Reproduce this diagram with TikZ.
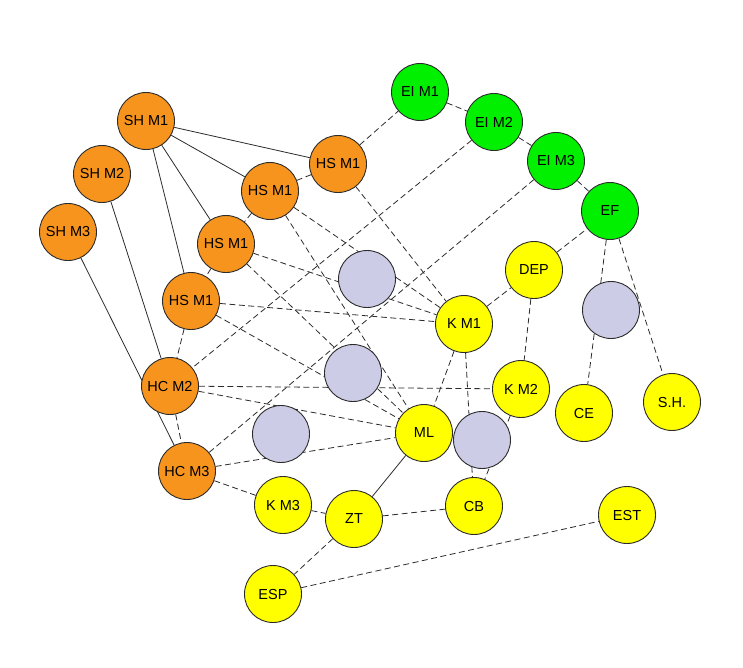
\documentclass[tikz,border=0pt]{standalone}
\usepackage{fontspec}
\setmainfont{Liberation Sans}
\usepackage{tikz}
\usetikzlibrary{backgrounds}
\definecolor{NetOrange}{HTML}{F7941E}
\definecolor{NetGreen}{HTML}{00F000}
\definecolor{NetYellow}{HTML}{FFFF00}
\definecolor{NetBlank}{HTML}{CCCCE6}
\definecolor{NetEdge}{HTML}{2B2B2B}
\tikzset{
  member/.style={circle,draw=NetEdge,line width=0.9pt,minimum size=57pt,inner sep=0pt,font=\fontsize{14.5}{17}\selectfont},
  senior/.style={member,fill=NetOrange},
  board/.style={member,fill=NetGreen},
  unit/.style={member,fill=NetYellow},
  blank/.style={member,fill=NetBlank},
  tie/.style={draw=NetEdge,line width=0.8pt},
  link/.style={tie,dash pattern=on 6pt off 3.5pt}
}
\begin{document}
\begin{tikzpicture}[x=1pt,y=-1pt]
  \useasboundingbox (0,0) rectangle (743,667);
  % orange group, left side
  \node[senior] (sh1) at (146,121) {SH M1};
  \node[senior] (sh2) at (102,174) {SH M2};
  \node[senior] (sh3) at (68,232) {SH M3};
  \node[senior] (hsa) at (338,164) {HS M1};
  \node[senior] (hsb) at (270,191) {HS M1};
  \node[senior] (hsc) at (226,244) {HS M1};
  \node[senior] (hsd) at (191,301) {HS M1};
  \node[senior] (hc2) at (170,386) {HC M2};
  \node[senior] (hc3) at (187,471) {HC M3};

  % green chain, top right
  \node[board] (ei1) at (420,92) {EI M1};
  \node[board] (ei2) at (494,122) {EI M2};
  \node[board] (ei3) at (556,161) {EI M3};
  \node[board] (ef) at (610,211) {EF};

  % yellow units
  \node[unit] (dep) at (534,270) {DEP};
  \node[unit] (km1) at (464,324) {K M1};
  \node[unit] (km2) at (521,389) {K M2};
  \node[unit] (ce) at (584,413) {CE};
  \node[unit] (shdot) at (672,402) {S.H.};
  \node[unit] (ml) at (424,433) {ML};
  \node[unit] (km3) at (283,505) {K M3};
  \node[unit] (zt) at (354,519) {ZT};
  \node[unit] (cb) at (474,506) {CB};
  \node[unit] (est) at (627,515) {EST};
  \node[unit] (esp) at (273,594) {ESP};

  % empty circles sit on top of the ties
  \node[blank] (blankA) at (367,279) {};
  \node[blank] (blankB) at (611,310) {};
  \node[blank] (blankC) at (353,373) {};
  \node[blank] (blankD) at (281,434) {};
  \node[blank] (blankE) at (482,440) {};

  \begin{scope}[on background layer]
    \foreach \a/\b in {sh1/hsa,sh1/hsb,sh1/hsc,sh1/hsd,sh2/hc2,sh3/hc3,ml/zt}
      \draw[tie] (\a) -- (\b);
    \foreach \a/\b in {hsa/hsb,hsb/hsc,hsc/hsd,hsd/hc2,hc2/hc3,
        hsa/ei1,ei1/ei2,ei2/ei3,ei3/ef,
        hsa/km1,hsb/km1,hsc/km1,hsd/km1,hsb/ml,hsc/ml,hsd/ml,
        ei2/hc2,ei3/hc3,hc2/km2,hc2/ml,hc3/ml,
        hc3/km3,km3/zt,zt/cb,zt/esp,esp/est,
        km1/dep,dep/ef,dep/km2,km1/ml,km1/cb,km2/cb,ef/ce,ef/shdot}
      \draw[link] (\a) -- (\b);
  \end{scope}
\end{tikzpicture}
\end{document}
